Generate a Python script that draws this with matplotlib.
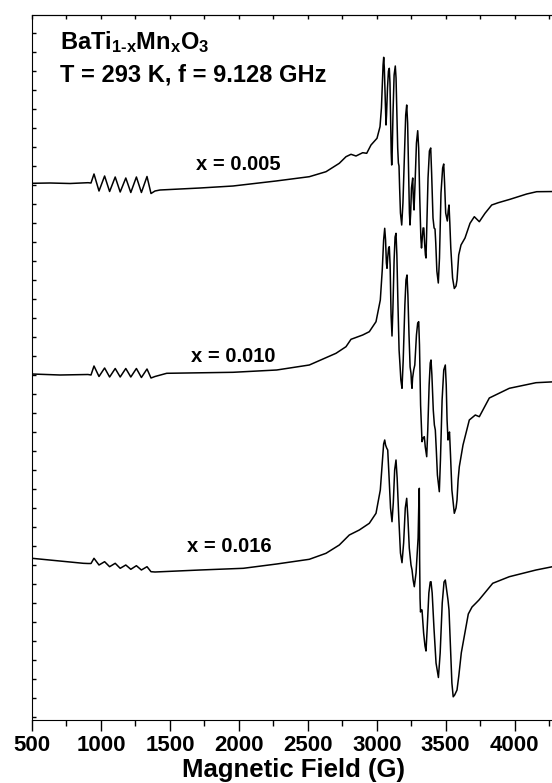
import matplotlib.pyplot as plt
import numpy as np
from matplotlib.ticker import MultipleLocator

plt.rcParams['font.family'] = ['Liberation Sans', 'DejaVu Sans']
plt.rcParams['font.weight'] = 'bold'
plt.rcParams['mathtext.fontset'] = 'custom'
plt.rcParams['mathtext.bf'] = 'Liberation Sans:bold'
plt.rcParams['mathtext.rm'] = 'Liberation Sans:bold'

# campo magnetico (G) y senal (u.a., relativa a la linea base de cada curva)
campo_005 = [500, 630.5, 775.6, 906.1, 927.9, 949.6, 985.9, 1026.5, 1062.8, 1103.4, 1139.6,
             1180.2, 1216.5, 1257.1, 1293.4, 1334.0, 1363.0, 1392, 1428.3, 1718.3, 1957.7,
             2269.5, 2511, 2632.1, 2728.5, 2777.1, 2813.4, 2849.6, 2898.2, 2927.2, 2958.4,
             3001.9, 3023.7, 3034, 3041, 3046, 3050.5, 3055, 3060, 3064, 3067.2, 3071, 3078,
             3085, 3091.1, 3096, 3101, 3105, 3108.5, 3112, 3118, 3126, 3134.6, 3140, 3146,
             3152, 3157, 3161.5, 3166, 3172, 3181.1, 3190, 3200, 3210, 3217.3, 3224, 3232,
             3237, 3241.3, 3246, 3252, 3260.9, 3265, 3270.3, 3278, 3288, 3297.1, 3304, 3312,
             3320, 3324.7, 3330, 3336, 3341.4, 3347, 3353, 3357.3, 3364, 3372, 3382, 3391.4,
             3398, 3408, 3416, 3422.6, 3428, 3436, 3446.5, 3455, 3466, 3478, 3485.7, 3492,
             3500, 3511.8, 3518, 3524.1, 3530, 3537, 3542.2, 3550, 3562.5, 3575, 3582.1, 3590,
             3594.5, 3611.1, 3640.1, 3676.4, 3707.6, 3743.9, 3785.2, 3833.8, 3881.6, 3966.5,
             4087.6, 4160.1, 4300]
senal_005 = [-0.3, 0, -0.5, 0.3, 0, 9, -8, 7, -8.5, 6, -9,
             5, -9.5, 6, -9.5, 6.5, -10.5, -8, -7, -5, -3,
             2, 6.3, 11.3, 19.7, 26.3, 28.7, 27, 30.3, 29.7, 38,
             44.7, 56.3, 75, 100, 118, 125.7, 115, 90, 68, 58, 68, 95,
             112, 114.7, 100, 60, 30, 18, 30, 70, 108, 117, 105, 70,
             35, 20, 17, -5, -30, -42, -20, 25, 68, 78, 60, 5,
             -30, -42, -30, -5, 5, -15, -27, 0, 40, 52.3, 35, -15,
             -55, -65, -55, -45, -45, -60, -72, -75, -40, 5, 32, 35,
             10, -35, -45, -46, -60, -88, -100, -75, -10, 15, 19, 0,
             -30, -38, -28, -22, -40, -65, -77, -95, -105.5, -103, -97, -80,
             -72, -62, -55, -40.3, -33.7, -38.7, -30.3, -22, -19.7, -16.3,
             -11, -8.7, -8.5]

campo_010 = [500, 703, 906, 927.9, 949.6, 985.9, 1026.5, 1062.8, 1103.4, 1139.6,
             1180.2, 1216.5, 1257.1, 1293.4, 1334.0, 1363.0, 1392, 1476.8, 1957.7,
             2274.6, 2511, 2704.6, 2777.1, 2813.4, 2898.2, 2946.1, 2994.7, 3025.9,
             3040, 3050, 3057.8, 3064, 3070, 3074.5, 3080, 3086, 3091.1, 3097, 3104,
             3110.7, 3117, 3126, 3133, 3139.7, 3146, 3154, 3162, 3168.7, 3175, 3183.2,
             3192, 3204, 3212, 3219.5, 3226, 3234, 3242, 3248.5, 3252, 3255.8, 3260,
             3268.1, 3276, 3288, 3297, 3304.4, 3310, 3318, 3328.3, 3336, 3345, 3352,
             3362.4, 3370, 3380, 3388, 3393.6, 3400, 3410, 3418, 3424.8, 3432, 3440,
             3453.8, 3462, 3474, 3486, 3497.3, 3504, 3510, 3516.8, 3522, 3527.7, 3535,
             3545, 3562.5, 3575, 3582.1, 3590, 3598.8, 3625.6, 3671.3, 3714.8,
             3743.9, 3816.4, 3961.4, 4155.0, 4300]
senal_010 = [1, 0, 0.5, 0, 9, -1.5, 7, -2, 6.5, -2,
             6.5, -2, 6.5, -2.5, 6, -3, -1.5, 1.7, 2.7,
             5, 10, 21.7, 28.3, 35.7, 40, 43.3, 53.3, 75,
             105, 135, 146.7, 135, 112, 106.7, 118, 127, 128.3, 110, 60,
             39, 65, 115, 138, 141.7, 120, 70, 25, 10, -5, -13.3,
             15, 70, 95, 100, 80, 40, 8, 1.7, -8, -13.3, -3,
             5, 10, 40, 52, 53.3, 30, -30, -66.7, -63, -61.7, -72,
             -81.7, -55, -10, 12, 15, 0, -35, -50, -55, -75, -100,
             -116.7, -85, -25, 5, 10, -10, -45, -65, -60, -57, -80,
             -115, -138.3, -133, -125, -105, -91.7, -70, -45, -40,
             -41.7, -23, -13.3, -7.7, -6.7]

campo_016 = [500, 872, 906, 927.9, 949.6, 985.9, 1026.5, 1062.8, 1103.4, 1139.6,
             1180.2, 1216.5, 1257.1, 1293.4, 1334.0, 1363.0, 1392, 1718.3, 2032.4,
             2274.6, 2511, 2632.1, 2728.5, 2801.1, 2873.6, 2946.1, 2994.7, 3025.9,
             3040, 3050, 3057.8, 3064, 3072, 3079.6, 3088, 3100, 3110.7, 3120, 3130,
             3139.7, 3148, 3160, 3172, 3183.2, 3195, 3207, 3217.3, 3226, 3236, 3248.5,
             3256, 3264, 3272.4, 3285, 3300, 3306, 3308.7, 3311, 3314, 3317.4, 3322,
             3328.3, 3340, 3350, 3357.3, 3366, 3378, 3388, 3393.6, 3402, 3415, 3430,
             3447.3, 3460, 3475, 3488, 3497.3, 3505, 3516.8, 3524.1, 3535, 3545, 3554.5,
             3565, 3582.1, 3595, 3613.3, 3664.0, 3691, 3720, 3741.2, 3841.1, 3961.4,
             4155, 4300]
senal_016 = [-0.3, -5.3, -5.5, -5.5, -0.3, -7, -3.7, -8.7, -5.3, -10.3,
             -7, -11.3, -7.7, -12, -8.7, -13.7, -14, -12, -10.3,
             -6, -1.3, 4.7, 13, 23, 28, 34.7, 44.7, 68,
             95, 114, 118, 113, 110, 108, 85, 50, 36.3, 55, 88,
             98, 80, 40, 5, -4.7, 15, 50, 59.7, 40, 10, -7,
             -12, -22, -28.7, -15, 20, 60, 69.7, 0, -40, -54, -52,
             -52, -75, -88, -93, -70, -35, -24, -23.7, -35, -70, -105,
             -119.5, -95, -45, -24, -22, -30, -42, -52, -90, -125, -138.8,
             -137, -132, -118, -94.8, -56, -49, -45, -42, -25.3, -18.7,
             -12, -8]

desplazamientos = [537, 345, 162]
etiquetas = ['x = 0.005', 'x = 0.010', 'x = 0.016']
pos_etiquetas_x = [1994, 1961, 1932]
pos_etiquetas_y = [555, 364, 173]

fig = plt.figure(figsize=(5.52, 7.83), dpi=100)
ax = fig.add_axes([32 / 552, 63 / 783, 524 / 552, 705 / 783])

campos = [campo_005, campo_010, campo_016]
senales = [senal_005, senal_010, senal_016]
for campo, senal, d in zip(campos, senales, desplazamientos):
    ax.plot(campo, np.array(senal) + d, color='black', linewidth=1.1)

for txt, xx, yy in zip(etiquetas, pos_etiquetas_x, pos_etiquetas_y):
    ax.text(xx, yy, txt, ha='center', va='center', fontsize=14.5, fontweight='bold')

ax.text(0.0534, 0.9518, r'$\mathbf{BaTi_{1\text{-}x}Mn_xO_3}$', transform=ax.transAxes,
        fontsize=17, va='baseline', ha='left')
ax.text(0.0534, 0.9054, 'T = 293 K, f = 9.128 GHz', transform=ax.transAxes,
        fontsize=17, fontweight='bold', va='baseline', ha='left')

ax.set_xlim(500, 4300)
ax.set_ylim(0, 705)
ax.xaxis.set_major_locator(MultipleLocator(500))
ax.xaxis.set_minor_locator(MultipleLocator(250))
ax.set_yticks(np.arange(2.7, 705, 19))
ax.set_yticklabels([])
ax.tick_params(axis='x', which='major', direction='out', length=8, width=1, labelsize=16, pad=3)
ax.tick_params(axis='x', which='minor', direction='out', length=4.5, width=1)
ax.tick_params(axis='y', which='major', direction='in', length=3, width=1)
for lab in ax.get_xticklabels():
    lab.set_fontweight('bold')
ax.spines['right'].set_visible(False)

sec = ax.secondary_xaxis('top')
sec.xaxis.set_major_locator(MultipleLocator(250))
sec.tick_params(direction='in', length=3, width=1, labeltop=False)

ax.set_xlabel('Magnetic Field (G)', fontsize=18.5, fontweight='bold', labelpad=1)

fig.savefig('out.png', dpi=100)
